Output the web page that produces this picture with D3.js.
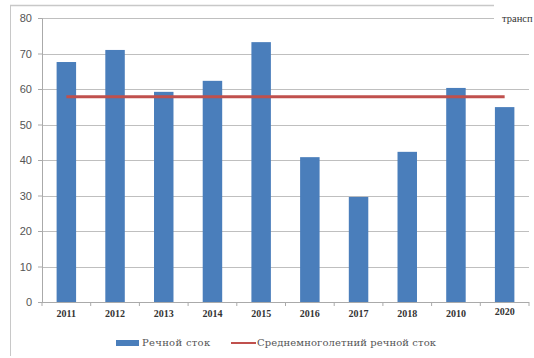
<!DOCTYPE html>
<html><head><meta charset="utf-8">
<script src="https://cdn.jsdelivr.net/npm/d3@7"></script>
<style>body{margin:0;background:#fff;}svg{display:block;}</style>
</head><body>
<svg id="c" width="534" height="358"></svg>
<script>
const years = ["2011","2012","2013","2014","2015","2016","2017","2018","2010","2020"];
const flow = [67.6, 71.0, 59.2, 62.3, 73.2, 40.8, 29.6, 42.3, 60.3, 54.9];
const meanFlow = 57.8;
const yTicks = [0,10,20,30,40,50,60,70,80];
const legendLabels = ["Речной сток", "Среднемноголетний речной сток"];
const cornerText = "трансп";

const svg = d3.select("#c");
const mLeft = 42, mRight = 529, mTop = 18, mBottom = 302;
const serif = "'Liberation Serif', 'Times New Roman', serif";
const cyrSerif = "'DejaVu Serif', serif";
const x = d3.scaleBand().domain(years).range([mLeft, mRight]).paddingInner(0.6).paddingOuter(0.3);
const y = d3.scaleLinear().domain([0, 80]).range([mBottom, mTop]);

// outer frame (left and top border)
svg.append("line").attr("x1",10.5).attr("x2",10.5).attr("y1",5).attr("y2",356).attr("stroke","#c8c8c8");
svg.append("line").attr("x1",10).attr("x2",494).attr("y1",5.5).attr("y2",5.5).attr("stroke","#c8c8c8").attr("stroke-width",1.5);

// gridlines
svg.append("g").selectAll("line").data(yTicks.filter(d=>d>0)).join("line")
  .attr("x1",mLeft).attr("x2",d=>d===80?494:mRight)
  .attr("y1",d=>Math.round(y(d))+0.5).attr("y2",d=>Math.round(y(d))+0.5)
  .attr("stroke","#bfbfbf").attr("stroke-width",1.2);

// y axis
const ya = svg.append("g").attr("transform",`translate(${mLeft},0)`)
  .call(d3.axisLeft(y).tickValues(yTicks).tickSize(4).tickPadding(6));
ya.select(".domain").attr("stroke","#aaa");
ya.selectAll(".tick line").attr("stroke","#aaa");
ya.selectAll("text").attr("font-family","'Liberation Sans', Arial, sans-serif").attr("font-size",11).attr("fill","#555");

// bars
svg.append("g").selectAll("rect").data(years).join("rect")
  .attr("x",(d)=>x(d)).attr("width",x.bandwidth())
  .attr("y",(d,i)=>y(flow[i])).attr("height",(d,i)=>y(0)-y(flow[i]))
  .attr("fill","#4a7ebb");

// x axis
const step = x.step();
svg.append("line").attr("x1",mLeft).attr("x2",mRight).attr("y1",mBottom+0.5).attr("y2",mBottom+0.5).attr("stroke","#aaa");
svg.append("g").selectAll("line").data(d3.range(years.length+1)).join("line")
  .attr("x1",i=>mLeft+i*step).attr("x2",i=>mLeft+i*step).attr("y1",mBottom).attr("y2",mBottom+4).attr("stroke","#aaa");
svg.append("g").selectAll("text").data(years).join("text")
  .attr("x",d=>x(d)+x.bandwidth()/2).attr("y",(d,i)=>i===9?315:317)
  .attr("text-anchor","middle").attr("font-family",serif)
  .attr("font-weight","bold").attr("font-size",10).attr("fill","#333").text(d=>d);

// mean line
svg.append("line")
  .attr("x1",x(years[0])+x.bandwidth()/2).attr("x2",x(years[9])+x.bandwidth()/2)
  .attr("y1",y(meanFlow)).attr("y2",y(meanFlow))
  .attr("stroke","#c0504d").attr("stroke-width",3);

// corner text
svg.append("text").attr("x",502).attr("y",22).attr("font-family",serif)
  .attr("font-size",10.5).attr("fill","#333").text(cornerText);

// legend
const lg = svg.append("g");
lg.append("rect").attr("x",116).attr("y",340).attr("width",23).attr("height",6).attr("fill","#4a7ebb");
lg.append("text").attr("x",142).attr("y",346).attr("font-family",cyrSerif)
  .attr("font-size",10).attr("letter-spacing",0.3).attr("fill","#555").text(legendLabels[0]);
lg.append("line").attr("x1",231).attr("x2",256).attr("y1",343).attr("y2",343).attr("stroke","#c0504d").attr("stroke-width",2);
lg.append("text").attr("x",257).attr("y",346).attr("font-family",cyrSerif)
  .attr("font-size",10).attr("letter-spacing",0.1).attr("fill","#555").text(legendLabels[1]);
</script>
</body></html>
